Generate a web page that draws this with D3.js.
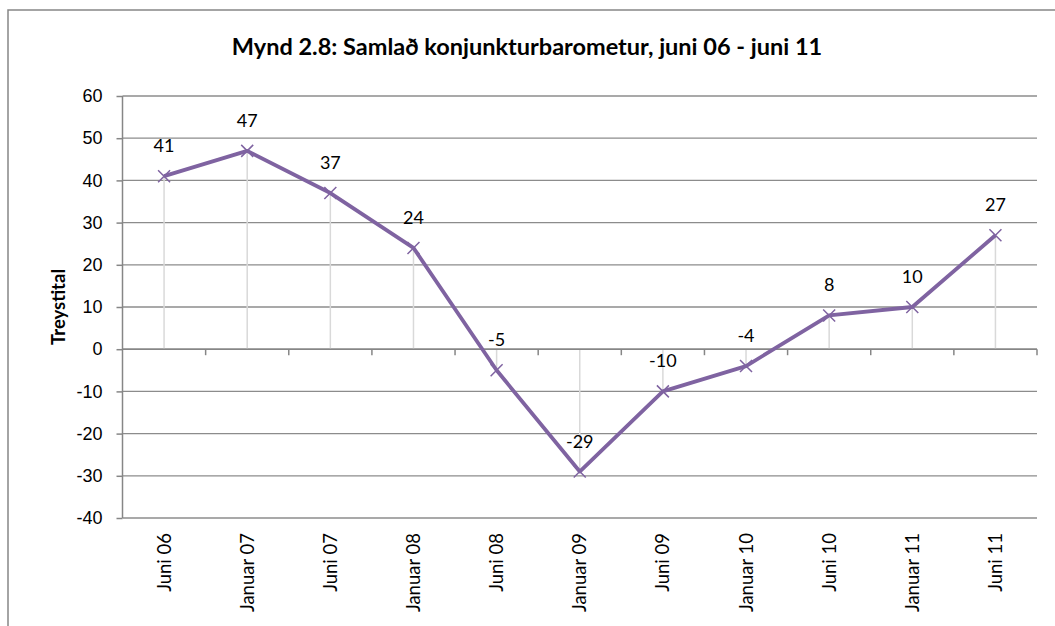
<!DOCTYPE html>
<html>
<head>
  <meta charset="utf-8">
  <title>Mynd 2.8</title>
  <script src="https://cdn.jsdelivr.net/npm/d3@7"></script>
  <style>
    body { margin: 0; background: #fff; font-family: Lato, "Open Sans", sans-serif; }
    .grid line { stroke: #8c8c8c; stroke-width: 1.3; }
    .axis path, .axis line { stroke: #868686; stroke-width: 1.5; }
    .axis text { fill: #000; font-size: 18px; }
    .drop { stroke: #d9d9d9; stroke-width: 1.5; }
    .series { fill: none; stroke: #7f63a1; stroke-width: 3.8; stroke-linejoin: round; }
    .marker { stroke: #7f63a1; stroke-width: 1.5; }
    .value { font-size: 18px; fill: #000; text-anchor: middle; }
  </style>
</head>
<body>
<script>

  var categories = ["Juni 06", "Januar 07", "Juni 07", "Januar 08", "Juni 08", "Januar 09",
                    "Juni 09", "Januar 10", "Juni 10", "Januar 11", "Juni 11"];
  var values = [41, 47, 37, 24, -5, -29, -10, -4, 8, 10, 27];
  var yTicks = [60, 50, 40, 30, 20, 10, 0, -10, -20, -30, -40];

  var W = 1055, H = 626;
  var plot = {left: 122.5, right: 1037, top: 96, bottom: 518};

  var svg = d3.select("body").append("svg")
      .attr("width", W)
      .attr("height", H);

  // outer frame (open to the right and bottom, as in the original)
  svg.append("rect")
      .attr("x", 8)
      .attr("y", 10)
      .attr("width", 1100)
      .attr("height", 700)
      .attr("fill", "none")
      .attr("stroke", "#868686")
      .attr("stroke-width", 1.5);

  var x = d3.scaleBand()
      .domain(categories)
      .range([plot.left, plot.right]);

  var y = d3.scaleLinear()
      .domain([-40, 60])
      .range([plot.bottom, plot.top]);

  // horizontal gridlines
  svg.append("g")
      .attr("class", "grid")
      .selectAll("line")
      .data(yTicks)
      .enter().append("line")
      .attr("x1", plot.left)
      .attr("x2", plot.right)
      .attr("y1", function (d) { return y(d); })
      .attr("y2", function (d) { return y(d); });

  // y axis
  var yAxis = d3.axisLeft(y)
      .tickValues(yTicks)
      .tickSize(6)
      .tickPadding(14)
      .tickFormat(function (d) { return String(d); });

  svg.append("g")
      .attr("class", "axis y")
      .attr("transform", "translate(" + plot.left + ",0)")
      .call(yAxis)
      .call(function (g) { g.select(".domain").attr("d", "M0," + plot.top + "V" + plot.bottom); });

  // drop lines to zero
  var cx = function (d, i) { return x(categories[i]) + x.bandwidth() / 2; };

  svg.append("g")
      .selectAll("line")
      .data(values)
      .enter().append("line")
      .attr("class", "drop")
      .attr("x1", cx)
      .attr("x2", cx)
      .attr("y1", y(0))
      .attr("y2", function (d) { return y(d); });

  // x axis along zero, ticks between categories
  var xAxisG = svg.append("g")
      .attr("class", "axis x")
      .attr("transform", "translate(0," + y(0) + ")");

  xAxisG.append("line")
      .attr("x1", plot.left)
      .attr("x2", plot.right)
      .attr("y1", 0)
      .attr("y2", 0);

  var boundaries = categories.map(function (c) { return x(c) + x.bandwidth(); });

  xAxisG.selectAll("line.tick")
      .data(boundaries)
      .enter().append("line")
      .attr("class", "tick")
      .attr("x1", function (d) { return d; })
      .attr("x2", function (d) { return d; })
      .attr("y1", 0)
      .attr("y2", 6);

  // category labels below the plot
  svg.append("g")
      .attr("class", "axis")
      .selectAll("text")
      .data(categories)
      .enter().append("text")
      .attr("transform", function (d) {
        return "translate(" + (x(d) + x.bandwidth() / 2 + 6.5) + "," + (plot.bottom + 15) + ") rotate(-90)";
      })
      .attr("text-anchor", "end")
      .style("font-size", "18.5px")
      .text(function (d) { return d; });

  // series line
  var line = d3.line()
      .x(cx)
      .y(function (d) { return y(d); });

  svg.append("path")
      .datum(values)
      .attr("class", "series")
      .attr("d", line);

  // X markers
  var m = 6;
  svg.append("g")
      .selectAll("path")
      .data(values)
      .enter().append("path")
      .attr("class", "marker")
      .attr("d", function (d, i) {
        var px = cx(d, i), py = y(d);
        return "M" + (px - m) + "," + (py - m) + "L" + (px + m) + "," + (py + m) +
               "M" + (px - m) + "," + (py + m) + "L" + (px + m) + "," + (py - m);
      });

  // value labels
  svg.append("g")
      .selectAll("text")
      .data(values)
      .enter().append("text")
      .attr("class", "value")
      .attr("x", cx)
      .attr("y", function (d) { return y(d) - 24; })
      .text(function (d) { return d; });

  // title
  svg.append("text")
      .attr("x", 527)
      .attr("y", 55)
      .attr("text-anchor", "middle")
      .style("font-size", "23.5px")
      .style("font-weight", "bold")
      .text("Mynd 2.8: Samlað konjunkturbarometur, juni 06 - juni 11");

  // y axis title
  svg.append("text")
      .attr("transform", "translate(65," + ((plot.top + plot.bottom) / 2) + ") rotate(-90)")
      .attr("text-anchor", "middle")
      .style("font-size", "18.5px")
      .style("font-weight", "bold")
      .text("Treystital");

</script>
</body>
</html>
